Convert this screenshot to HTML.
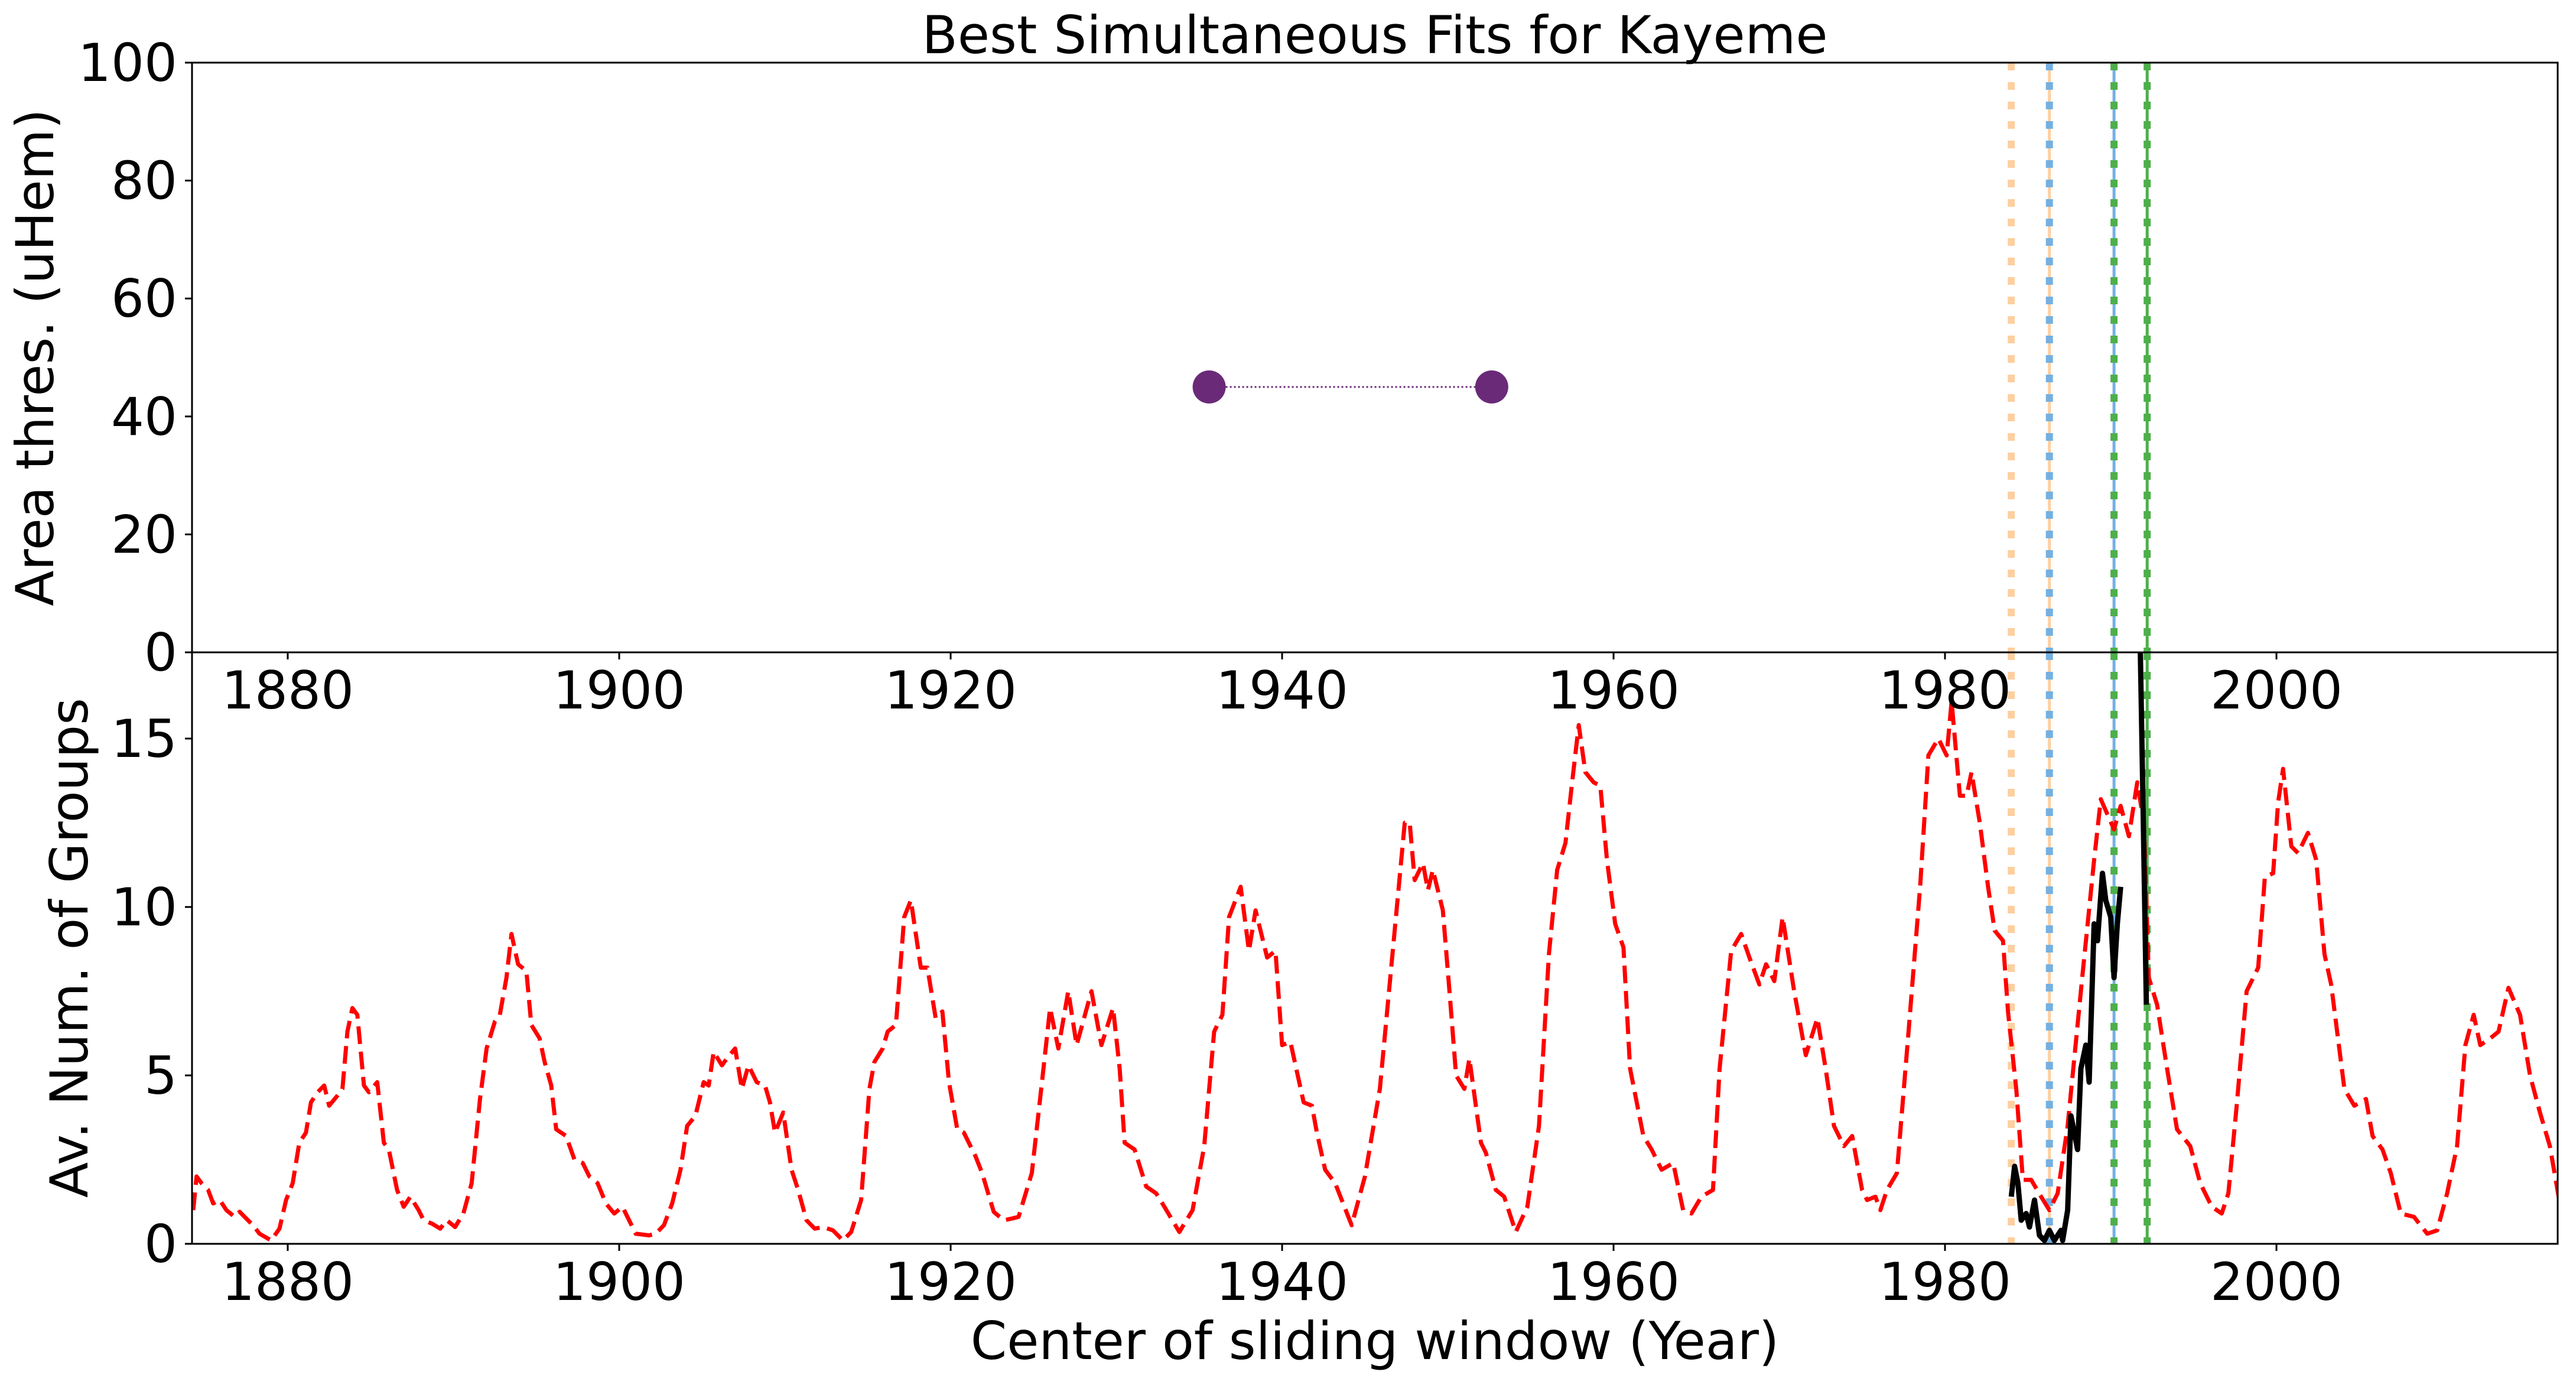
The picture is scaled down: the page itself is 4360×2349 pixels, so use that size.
<!DOCTYPE html>
<html>
<head>
<meta charset="utf-8">
<style>
html,body{margin:0;padding:0;background:#fff;}
svg{display:block;}
text{font-family:"DejaVu Sans","Liberation Sans",sans-serif;fill:#000;}
</style>
</head>
<body>
<svg id="chart" width="4360" height="2349" viewBox="0 0 4360 2349" xmlns="http://www.w3.org/2000/svg">
  <rect x="0" y="0" width="4360" height="2349" fill="#fff"/>
  <defs>
    <clipPath id="clipTop"><rect x="325" y="106" width="4004" height="998"/></clipPath>
    <clipPath id="clipBot"><rect x="325" y="1104" width="4004" height="1001"/></clipPath>
  </defs>
  <g id="topPanel"></g>
  <g id="botPanel"></g>
  <g id="axesLayer"></g>
  <text x="2327" y="90" font-size="88" text-anchor="middle">Best Simultaneous Fits for Kayeme</text>
  <text x="2327" y="2300" font-size="88" text-anchor="middle">Center of sliding window (Year)</text>
  <text transform="translate(90,605) rotate(-90)" font-size="88" text-anchor="middle">Area thres. (uHem)</text>
  <text transform="translate(148,1604) rotate(-90)" font-size="88" text-anchor="middle">Av. Num. of Groups</text>
</svg>
<script>
// ---- data ----
const redYears = [1874.3,1874.5,1874.8,1875.2,1875.5,1875.9,1876.3,1876.8,1877.1,1877.4,1877.9,1878.3,1879.0,1879.5,1879.9,1880.3,1880.7,1881.1,1881.4,1881.8,1882.2,1882.5,1883.0,1883.3,1883.6,1883.9,1884.2,1884.6,1884.9,1885.4,1885.8,1886.1,1886.6,1887.0,1887.4,1887.9,1888.2,1888.7,1889.2,1889.6,1890.1,1890.6,1891.1,1891.6,1892.0,1892.5,1892.8,1893.2,1893.5,1893.9,1894.4,1894.7,1895.2,1895.5,1895.9,1896.2,1896.8,1897.3,1897.8,1898.2,1898.7,1899.2,1899.7,1900.2,1900.5,1901.0,1901.8,1902.2,1902.7,1903.2,1903.7,1904.1,1904.6,1905.1,1905.4,1905.7,1906.2,1906.5,1907.0,1907.4,1907.8,1908.3,1908.8,1909.1,1909.4,1909.9,1910.4,1910.8,1911.3,1911.8,1912.3,1912.9,1913.5,1914.0,1914.6,1915.1,1915.4,1915.9,1916.2,1916.7,1917.2,1917.6,1918.2,1918.6,1919.1,1919.5,1919.9,1920.4,1920.8,1921.5,1921.9,1922.6,1923.2,1923.7,1924.1,1924.9,1925.6,1926.0,1926.5,1927.1,1927.6,1928.5,1929.1,1929.8,1930.2,1930.5,1931.1,1931.8,1932.4,1932.9,1933.8,1934.6,1935.3,1935.9,1936.4,1936.8,1937.5,1938.0,1938.4,1939.1,1939.6,1940.0,1940.5,1941.3,1941.8,1942.1,1942.6,1943.2,1944.2,1945.0,1945.9,1946.7,1947.4,1947.7,1948.0,1948.5,1948.8,1949.1,1949.7,1950.1,1950.5,1951.0,1951.3,1952.0,1952.3,1952.9,1953.4,1954.1,1954.8,1955.5,1956.1,1956.6,1957.1,1957.5,1957.9,1958.3,1958.8,1959.2,1959.6,1960.1,1960.6,1961.0,1961.8,1962.3,1962.9,1963.6,1964.2,1964.7,1965.3,1966.0,1966.4,1967.1,1967.7,1968.2,1968.8,1969.2,1969.7,1970.2,1970.9,1971.6,1972.3,1972.8,1973.3,1973.9,1974.4,1975.0,1975.3,1975.8,1976.1,1976.5,1977.1,1977.8,1978.5,1979.0,1979.6,1980.1,1980.4,1980.9,1981.3,1981.6,1982.1,1982.6,1983.0,1983.5,1983.8,1984.3,1984.7,1985.2,1985.8,1986.3,1986.8,1987.4,1988.3,1989.0,1989.4,1990.2,1990.6,1991.1,1991.6,1992.0,1992.3,1992.8,1993.4,1994.0,1994.8,1995.4,1996.1,1996.7,1997.1,1997.6,1998.2,1998.9,1999.3,1999.8,2000.1,2000.4,2000.9,2001.3,2001.9,2002.4,2002.9,2003.3,2004.1,2004.7,2005.4,2005.8,2006.4,2006.9,2007.5,2008.3,2009.1,2009.7,2010.3,2010.9,2011.4,2011.9,2012.3,2012.9,2013.4,2014.0,2014.7,2015.3,2015.9,2016.5,2017.1];
const redValues = [1.0,2.0,1.8,1.6,1.2,1.3,1.0,0.8,0.95,0.8,0.55,0.3,0.1,0.45,1.3,1.8,3.0,3.3,4.2,4.5,4.7,4.1,4.4,4.6,6.3,7.0,6.8,4.7,4.5,4.8,3.0,2.8,1.6,1.1,1.4,1.0,0.7,0.6,0.45,0.7,0.5,0.9,1.8,4.3,5.8,6.6,6.8,7.9,9.2,8.3,8.1,6.5,6.1,5.4,4.7,3.4,3.2,2.5,2.4,2.0,1.8,1.2,0.9,1.1,0.8,0.3,0.25,0.3,0.55,1.2,2.2,3.5,3.8,4.8,4.7,5.7,5.3,5.5,5.8,4.6,5.3,4.8,4.7,4.2,3.3,3.9,2.2,1.6,0.7,0.45,0.5,0.4,0.1,0.35,1.3,4.6,5.4,5.8,6.3,6.5,9.7,10.2,8.2,8.2,6.7,6.9,4.8,3.4,3.3,2.6,2.1,0.95,0.7,0.75,0.8,2.1,5.2,7.0,5.8,7.5,5.9,7.5,5.9,7.0,5.2,3.0,2.8,1.7,1.5,1.1,0.35,1.0,2.9,6.3,6.8,9.7,10.6,8.7,9.9,8.5,8.7,5.9,6.0,4.2,4.1,3.3,2.2,1.8,0.55,2.0,4.6,8.8,12.5,12.5,10.8,11.3,10.5,11.1,9.9,7.5,5.0,4.6,5.5,3.0,2.7,1.6,1.4,0.35,1.1,3.5,8.6,11.1,11.9,13.7,15.4,14.0,13.7,13.6,11.4,9.5,8.8,5.2,3.2,2.8,2.2,2.4,1.0,0.9,1.4,1.6,5.2,8.7,9.2,8.5,7.7,8.3,7.8,9.7,7.5,5.6,6.7,5.2,3.5,2.9,3.2,1.6,1.3,1.4,1.0,1.6,2.1,6.3,10.6,14.5,15.0,14.5,16.1,13.3,13.3,14.0,12.5,10.6,9.3,9.0,6.9,4.6,1.9,1.9,1.4,1.0,1.5,3.5,8.0,11.4,13.2,12.3,13.0,12.1,13.7,12.5,7.9,7.1,5.2,3.4,2.9,1.8,1.1,0.9,1.5,4.1,7.5,8.2,10.9,11.0,13.1,14.1,11.8,11.6,12.2,11.4,8.6,7.7,4.6,4.1,4.3,3.2,2.8,2.1,0.9,0.8,0.3,0.4,1.5,2.9,5.9,6.8,5.9,6.1,6.3,7.6,6.8,5.0,3.9,2.9,1.2];
const blackYears1 = [1984.0,1984.2,1984.4,1984.6,1984.9,1985.1,1985.4,1985.7,1986.0,1986.3,1986.6,1987.0,1987.1,1987.4,1987.6,1988.0,1988.2,1988.5,1988.7,1989.0,1989.2,1989.5,1989.7,1990.0,1990.2,1990.4,1990.6];
const blackValues1 = [1.4,2.3,1.8,0.7,0.9,0.5,1.3,0.25,0.1,0.4,0.1,0.4,0.1,1.0,3.8,2.8,5.2,5.9,4.8,9.5,9.0,11.0,10.2,9.7,7.9,9.5,10.6];
const blackYears2 = [1991.7,1991.95,1992.15];
const blackValues2 = [20,13,7.1];
const fitYears = [1935.6,1952.65];
const fitThresholds = [45,45];
const vlineYears = [1984.0,1986.3,1990.2,1992.2];
const xTicks = [1880,1900,1920,1940,1960,1980,2000];
const topYTicks = [0,20,40,60,80,100];
const botYTicks = [0,5,10,15];

// ---- axes functions ----
const L=325,R=4329,TT=106,MID=1104,BB=2105;
const X0=1874.225,X1=2016.97;
const x = v => L+(v-X0)/(X1-X0)*(R-L);
const yTop = v => MID-(v/100)*(MID-TT);
const yBot = v => BB-(v/17.56)*(BB-MID);
const NS="http://www.w3.org/2000/svg";
function mk(tag,attrs,parent){const e=document.createElementNS(NS,tag);for(const k in attrs)e.setAttribute(k,attrs[k]);parent.appendChild(e);return e;}
const topPanelEl=document.getElementById('topPanel');
const botPanelEl=document.getElementById('botPanel');
const ax=document.getElementById('axesLayer');
const gTop=mk('g',{'clip-path':'url(#clipTop)'},topPanelEl);


const gBot=mk('g',{'clip-path':'url(#clipBot)'},botPanelEl);



// vertical marker lines
const dotColors=['#fdcfa0','#74b0e2','#4daf4a','#4daf4a'];
const thinColors=[null,'#fdcfa0','#74b0e2','#4daf4a'];
[gTop,gBot].forEach((g,gi)=>{
  const y0=gi===0?TT:MID, y1=gi===0?MID:BB;
  vlineYears.forEach((yr,i)=>{
    if(thinColors[i]){
      const t=mk('line',{x1:x(yr),x2:x(yr),y1:y0,y2:y1,stroke:thinColors[i],'stroke-width':5},g);
      
      
    }
    const d=mk('line',{x1:x(yr),x2:x(yr),y1:y0,y2:y1,stroke:dotColors[i],'stroke-width':12,'stroke-dasharray':'13 20'},g);
    
    
  });
});

// top: fit points
const fl=mk('line',{x1:x(fitYears[0]),x2:x(fitYears[1]),y1:yTop(fitThresholds[0]),y2:yTop(fitThresholds[1]),stroke:'#6a2a78','stroke-width':3,'stroke-dasharray':'3 4'},gTop);


fitYears.forEach((yr,i)=>{
  const c=mk('circle',{cx:x(yr),cy:yTop(fitThresholds[i]),r:28,fill:'#6a2a78'},gTop);
  
  
});

// bottom: series
function pathFrom(xs,vs){return xs.map((yr,i)=>(i?'L':'M')+x(yr).toFixed(1)+' '+yBot(vs[i]).toFixed(1)).join(' ');}
const red=mk('path',{d:pathFrom(redYears,redValues),fill:'none',stroke:'#ff0000','stroke-width':7,'stroke-dasharray':'30 13','stroke-linejoin':'round'},gBot);


const b1=mk('path',{d:pathFrom(blackYears1,blackValues1),fill:'none',stroke:'#000','stroke-width':9,'stroke-linejoin':'round'},gBot);


const b2=mk('path',{d:pathFrom(blackYears2,blackValues2),fill:'none',stroke:'#000','stroke-width':9,'stroke-linejoin':'round'},gBot);



// frames
const f1=mk('rect',{x:L,y:TT,width:R-L,height:MID-TT,fill:'none',stroke:'#000','stroke-width':3},ax);


const f2=mk('rect',{x:L,y:MID,width:R-L,height:BB-MID,fill:'none',stroke:'#000','stroke-width':3},ax);



// ticks
xTicks.forEach(t=>{
  const px=x(t);
  [MID,BB].forEach((yy,k)=>{
    const tk=mk('line',{x1:px,x2:px,y1:yy,y2:yy+12,stroke:'#000','stroke-width':3},ax);
    
    
    const lb=mk('text',{x:px,y:yy+95,'font-size':88,'text-anchor':'middle'},ax);
    lb.textContent=t;
    
    
  });
});
topYTicks.forEach(t=>{
  const py=yTop(t);
  const tk=mk('line',{x1:L-12,x2:L,y1:py,y2:py,stroke:'#000','stroke-width':3},ax);
  
  
  const lb=mk('text',{x:L-25,y:py+31,'font-size':88,'text-anchor':'end'},ax);
  lb.textContent=t;
  
  
});
botYTicks.forEach(t=>{
  const py=yBot(t);
  const tk=mk('line',{x1:L-12,x2:L,y1:py,y2:py,stroke:'#000','stroke-width':3},ax);
  
  
  const lb=mk('text',{x:L-25,y:py+31,'font-size':88,'text-anchor':'end'},ax);
  lb.textContent=t;
  
  
});
</script>
</body>
</html>
